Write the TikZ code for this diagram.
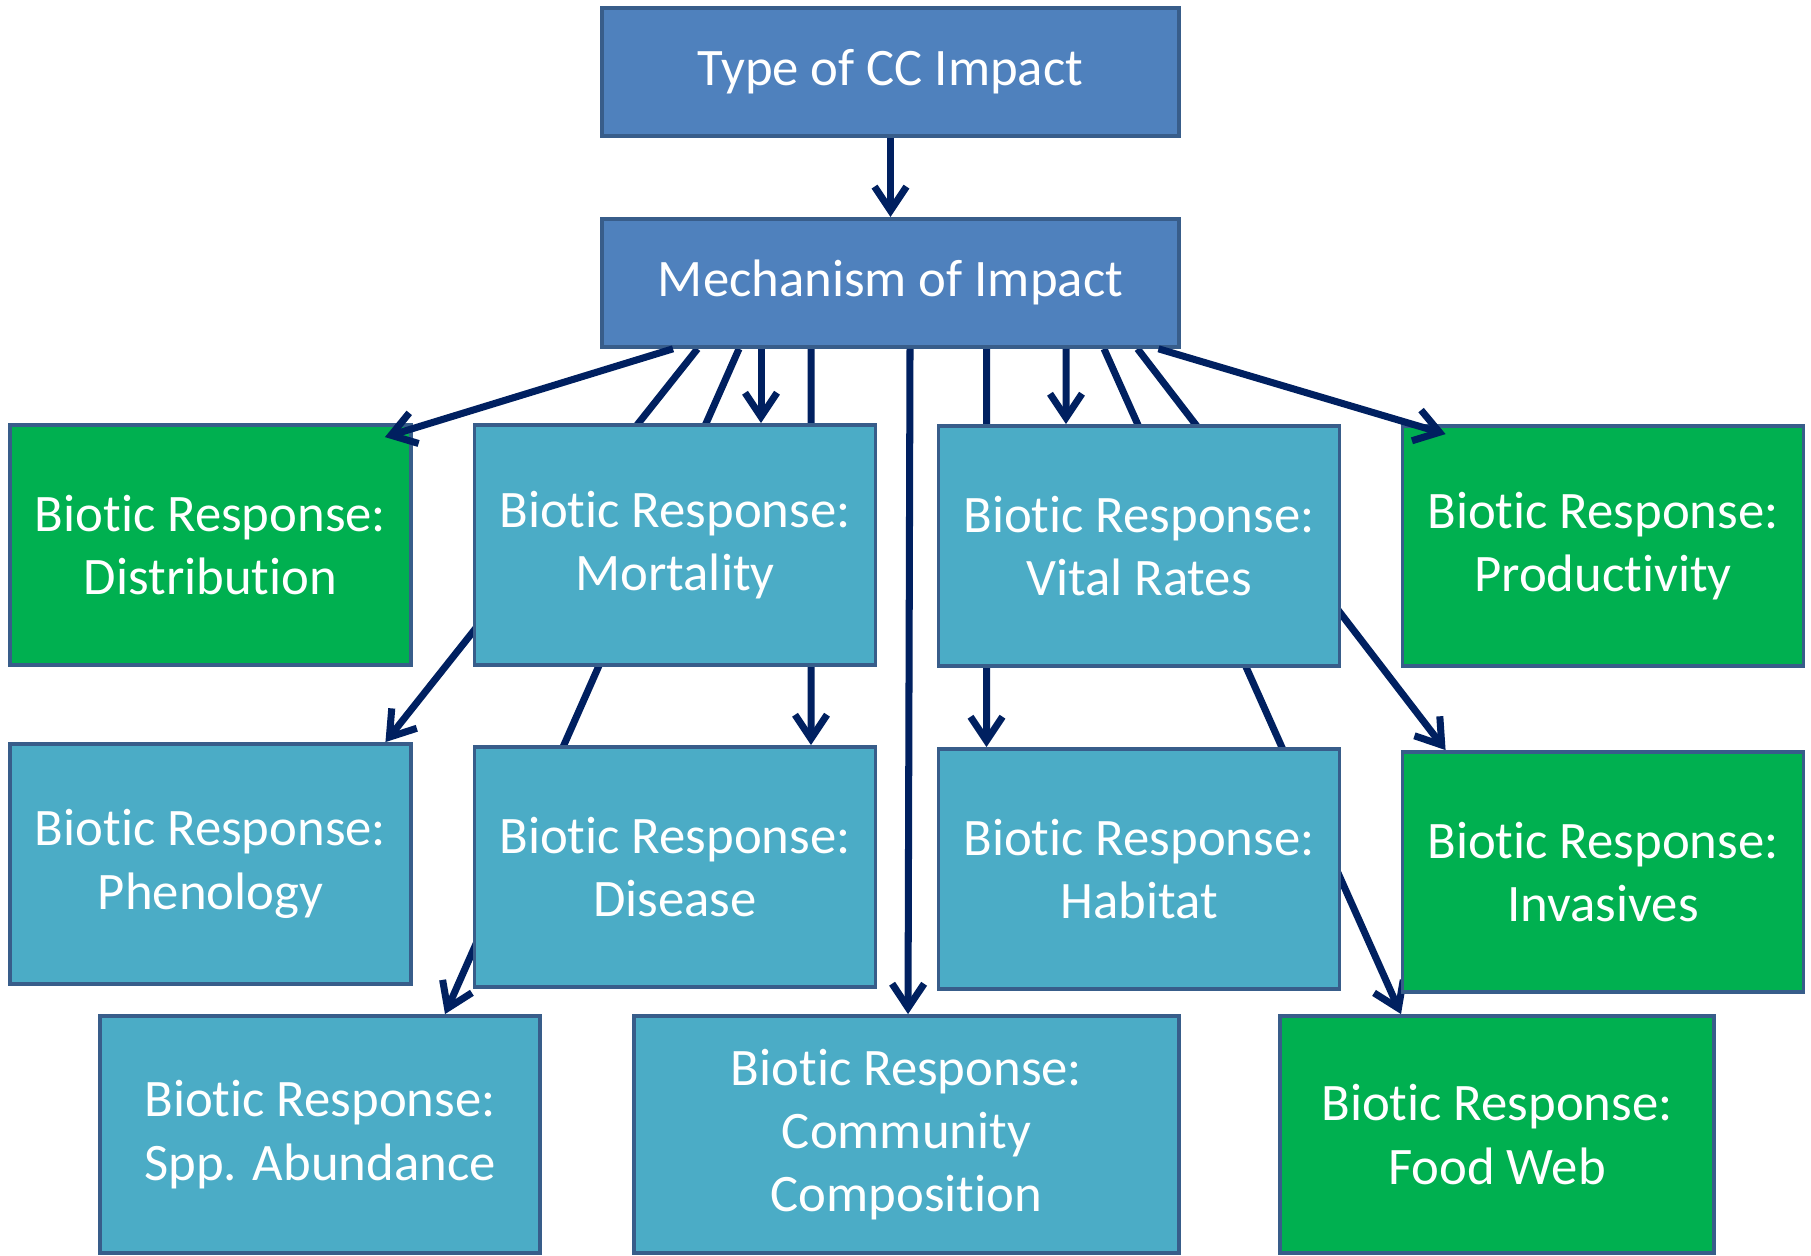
\documentclass[tikz,border=0pt]{standalone}
\usepackage{fontspec}
\setmainfont{Carlito}[Ligatures=NoCommon]
\usepackage{tikz}
\usetikzlibrary{arrows.meta, positioning, backgrounds}
\usepackage{xcolor}
\definecolor{ImpactBlue}{RGB}{79,129,189}
\definecolor{EdgeBlue}{RGB}{56,93,138}
\definecolor{ResponseTeal}{RGB}{75,172,198}
\definecolor{ResponseGreen}{RGB}{0,176,80}
\definecolor{LinkNavy}{RGB}{0,32,96}

\begin{document}
\begin{tikzpicture}[
          impact/.style={rectangle, draw=EdgeBlue, fill=ImpactBlue, line width=1.1pt, minimum width=5.77cm, minimum height=1.28cm, align=center, font=\fontsize{15}{18}\selectfont, text=white},
          response/.style={rectangle, draw=EdgeBlue, fill=ResponseTeal, line width=1.1pt, minimum width=4.01cm, minimum height=2.4cm, align=center, font=\fontsize{15}{18}\selectfont, text=white},
          greenresp/.style={response, fill=ResponseGreen},
          link/.style={draw=LinkNavy, line width=2pt, -{Straight Barb[length=2.4mm, width=3.2mm]}}
        ]
          \useasboundingbox (0,0) rectangle (18.11,-12.55);
          \node (type) [impact] at (8.905,-0.72) {Type of CC Impact};
          \node (mech) [impact, below=0.79cm of type] {Mechanism of Impact};
          \node (distr) [greenresp] at (2.105,-5.45) {Biotic Response:\\Distribution};
          \node (mort) [response] at (6.75,-5.45) {Biotic Response:\\Mortality};
          \node (vital) [response] at (11.39,-5.46) {Biotic Response:\\Vital Rates};
          \node (prod) [greenresp] at (16.03,-5.46) {Biotic Response:\\Productivity};
          \node (phen) [response] at (2.105,-8.64) {Biotic Response:\\Phenology};
          \node (dis) [response] at (6.75,-8.67) {Biotic Response:\\Disease};
          \node (hab) [response] at (11.39,-8.69) {Biotic Response:\\Habitat};
          \node (inv) [greenresp] at (16.03,-8.72) {Biotic Response:\\Invasives};
          \node (spp) [response, minimum width=4.4cm, minimum height=2.37cm] at (3.2,-11.345) {Biotic Response:\\Spp. Abundance};
          \node (comm) [response, minimum width=5.45cm, minimum height=2.37cm] at (9.065,-11.345) {Biotic Response:\\Community\\Composition};
          \node (food) [greenresp, minimum width=4.34cm, minimum height=2.37cm] at (14.97,-11.345) {Biotic Response:\\Food Web};
          \draw[link] (type) -- (mech);
          \draw[link] ([xshift=-2.175cm]mech.south) -- ([xshift=-0.28cm, yshift=-0.14cm]distr.north east);
          \draw[link] ([xshift=-1.295cm]mech.south) -- ([xshift=0.86cm]mort.north);
          \draw[link] ([xshift=0.195cm]mech.south) -- ([xshift=0.015cm]comm.north);
          \draw[link] ([xshift=1.755cm]mech.south) -- ([xshift=-0.73cm]vital.north);
          \draw[link] ([xshift=2.68cm]mech.south) -- ([xshift=0.45cm, yshift=-0.1cm]prod.north west);
          \begin{scope}[on background layer] % these run behind the boxes
            \draw[link] ([xshift=-1.93cm]mech.south) -- ([xshift=-0.275cm]phen.north east);
            \draw[link] ([xshift=-1.515cm]mech.south) -- ([xshift=1.25cm]spp.north);
            \draw[link] ([xshift=-0.795cm]mech.south) -- ([xshift=1.36cm]dis.north);
            \draw[link] ([xshift=0.96cm]mech.south) -- ([xshift=-1.525cm]hab.north);
            \draw[link] ([xshift=2.135cm]mech.south) -- ([xshift=-0.96cm]food.north);
            \draw[link] ([xshift=2.47cm]mech.south) -- ([xshift=0.45cm]inv.north west);
          \end{scope}
        \end{tikzpicture}
\end{document}
